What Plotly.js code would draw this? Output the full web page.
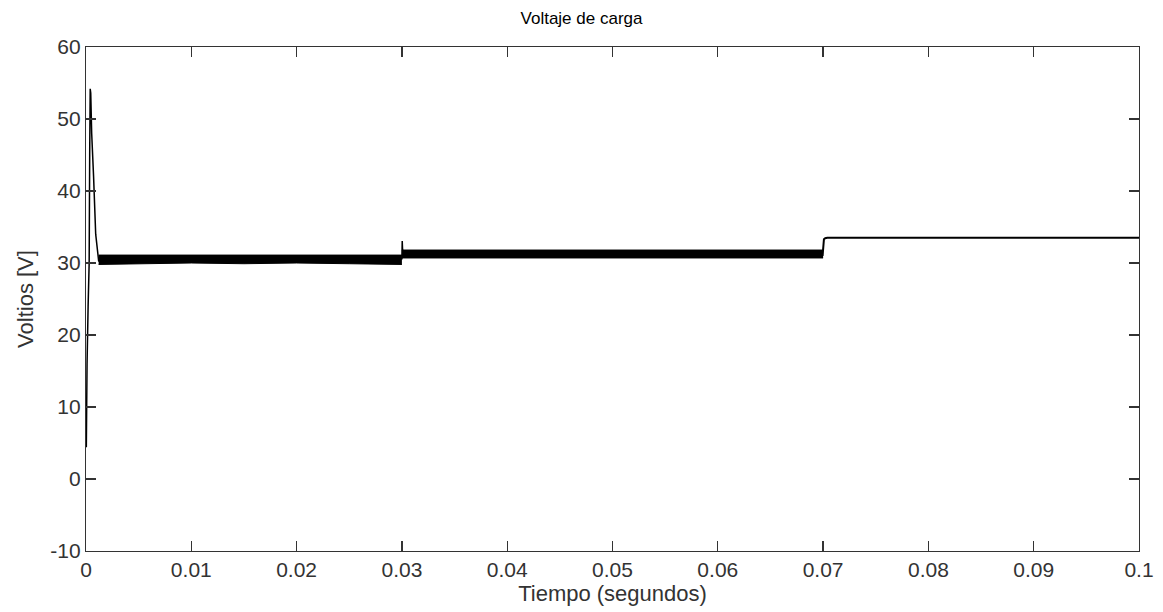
<!DOCTYPE html>
<html>
<head>
<meta charset="utf-8">
<script src="https://cdn.plot.ly/plotly-3.0.1.min.js"></script>
<style>
html,body{margin:0;padding:0;background:#fff;}
#chart{width:1163px;height:612px;}
</style>
</head>
<body>
<div id="chart"></div>
<script>
// Start-up transient (time in s, voltage in V)
const transT = [0.00003, 0.00006, 0.0001, 0.0002, 0.0003, 0.00035, 0.0004, 0.00045, 0.00054, 0.00056, 0.0007, 0.00072, 0.00092, 0.00095, 0.00117, 0.0012, 0.0013];
const transV = [4.4, 15, 16, 24, 30, 45, 54.2, 53.6, 48, 47.5, 42.5, 42, 34, 33.6, 31, 30.3, 30.2];

// Ripple envelope, first load stage
const band1T = [0.0012, 0.005, 0.01, 0.015, 0.02, 0.025, 0.0300];
const band1Hi = [31.1, 31.1, 31.1, 31.1, 31.1, 31.1, 31.1];
const band1Lo = [29.8, 29.9, 30.0, 29.9, 30.0, 29.9, 29.8];

// Load change spike at 0.03 s
const stepT = [0.0300, 0.03003, 0.03006, 0.0301];
const stepV = [30.5, 33.05, 32.0, 31.5];

// Ripple envelope, second load stage
const band2T = [0.0300, 0.04, 0.05, 0.06, 0.0700];
const band2Hi = [31.8, 31.8, 31.8, 31.8, 31.8];
const band2Lo = [30.7, 30.7, 30.7, 30.7, 30.7];

// Final stage after 0.07 s
const finalT = [0.06995, 0.0700, 0.07003, 0.07008, 0.0702, 0.0704, 0.1];
const finalV = [31.0, 32.8, 33.1, 33.3, 33.45, 33.5, 33.5];

const xTicks = [0, 0.01, 0.02, 0.03, 0.04, 0.05, 0.06, 0.07, 0.08, 0.09, 0.1];
const xTickText = ['0', '0.01', '0.02', '0.03', '0.04', '0.05', '0.06', '0.07', '0.08', '0.09', '0.1'];
const yTicks = [-10, 0, 10, 20, 30, 40, 50, 60];
const yTickText = ['-10', '0', '10', '20', '30', '40', '50', '60'];

const blk = '#000000';
const traces = [
  {x: band1T, y: band1Lo, mode: 'lines', line: {color: blk, width: 1}, hoverinfo: 'skip', showlegend: false},
  {x: band1T, y: band1Hi, mode: 'lines', fill: 'tonexty', fillcolor: blk, line: {color: blk, width: 1}, showlegend: false},
  {x: band2T, y: band2Lo, mode: 'lines', line: {color: blk, width: 1}, hoverinfo: 'skip', showlegend: false},
  {x: band2T, y: band2Hi, mode: 'lines', fill: 'tonexty', fillcolor: blk, line: {color: blk, width: 1}, showlegend: false},
  {x: transT, y: transV, mode: 'lines', line: {color: blk, width: 1.5}, showlegend: false},
  {x: stepT, y: stepV, mode: 'lines', line: {color: blk, width: 1.5}, showlegend: false},
  {x: finalT, y: finalV, mode: 'lines', line: {color: blk, width: 2}, showlegend: false}
];

const fam = 'Liberation Sans, Arial, sans-serif';
const axCommon = {
  showgrid: false, zeroline: false,
  showline: true, linecolor: '#333333', linewidth: 1.2, mirror: 'ticks',
  ticks: 'inside', ticklen: 10, tickcolor: '#333333', tickwidth: 1.2,
  tickfont: {family: fam, size: 21, color: '#333333'}
};

const layout = {
  width: 1163, height: 612,
  margin: {l: 86, r: 24, t: 47, b: 61},
  paper_bgcolor: '#ffffff', plot_bgcolor: '#ffffff',
  title: {text: 'Voltaje de carga', x: 0.5, xanchor: 'center', y: 0.97, yanchor: 'middle',
          font: {family: fam, size: 17, color: '#000'}},
  xaxis: Object.assign({}, axCommon, {
    range: [0, 0.1], tickvals: xTicks, ticktext: xTickText,
    title: {text: 'Tiempo (segundos)', standoff: 4, font: {family: fam, size: 22, color: '#333'}}
  }),
  yaxis: Object.assign({}, axCommon, {
    range: [-10, 60], tickvals: yTicks, ticktext: yTickText,
    title: {text: 'Voltios [V]', standoff: 10, font: {family: fam, size: 22, color: '#333'}}
  })
};

Plotly.newPlot('chart', traces, layout, {displayModeBar: false, staticPlot: true});
</script>
</body>
</html>
